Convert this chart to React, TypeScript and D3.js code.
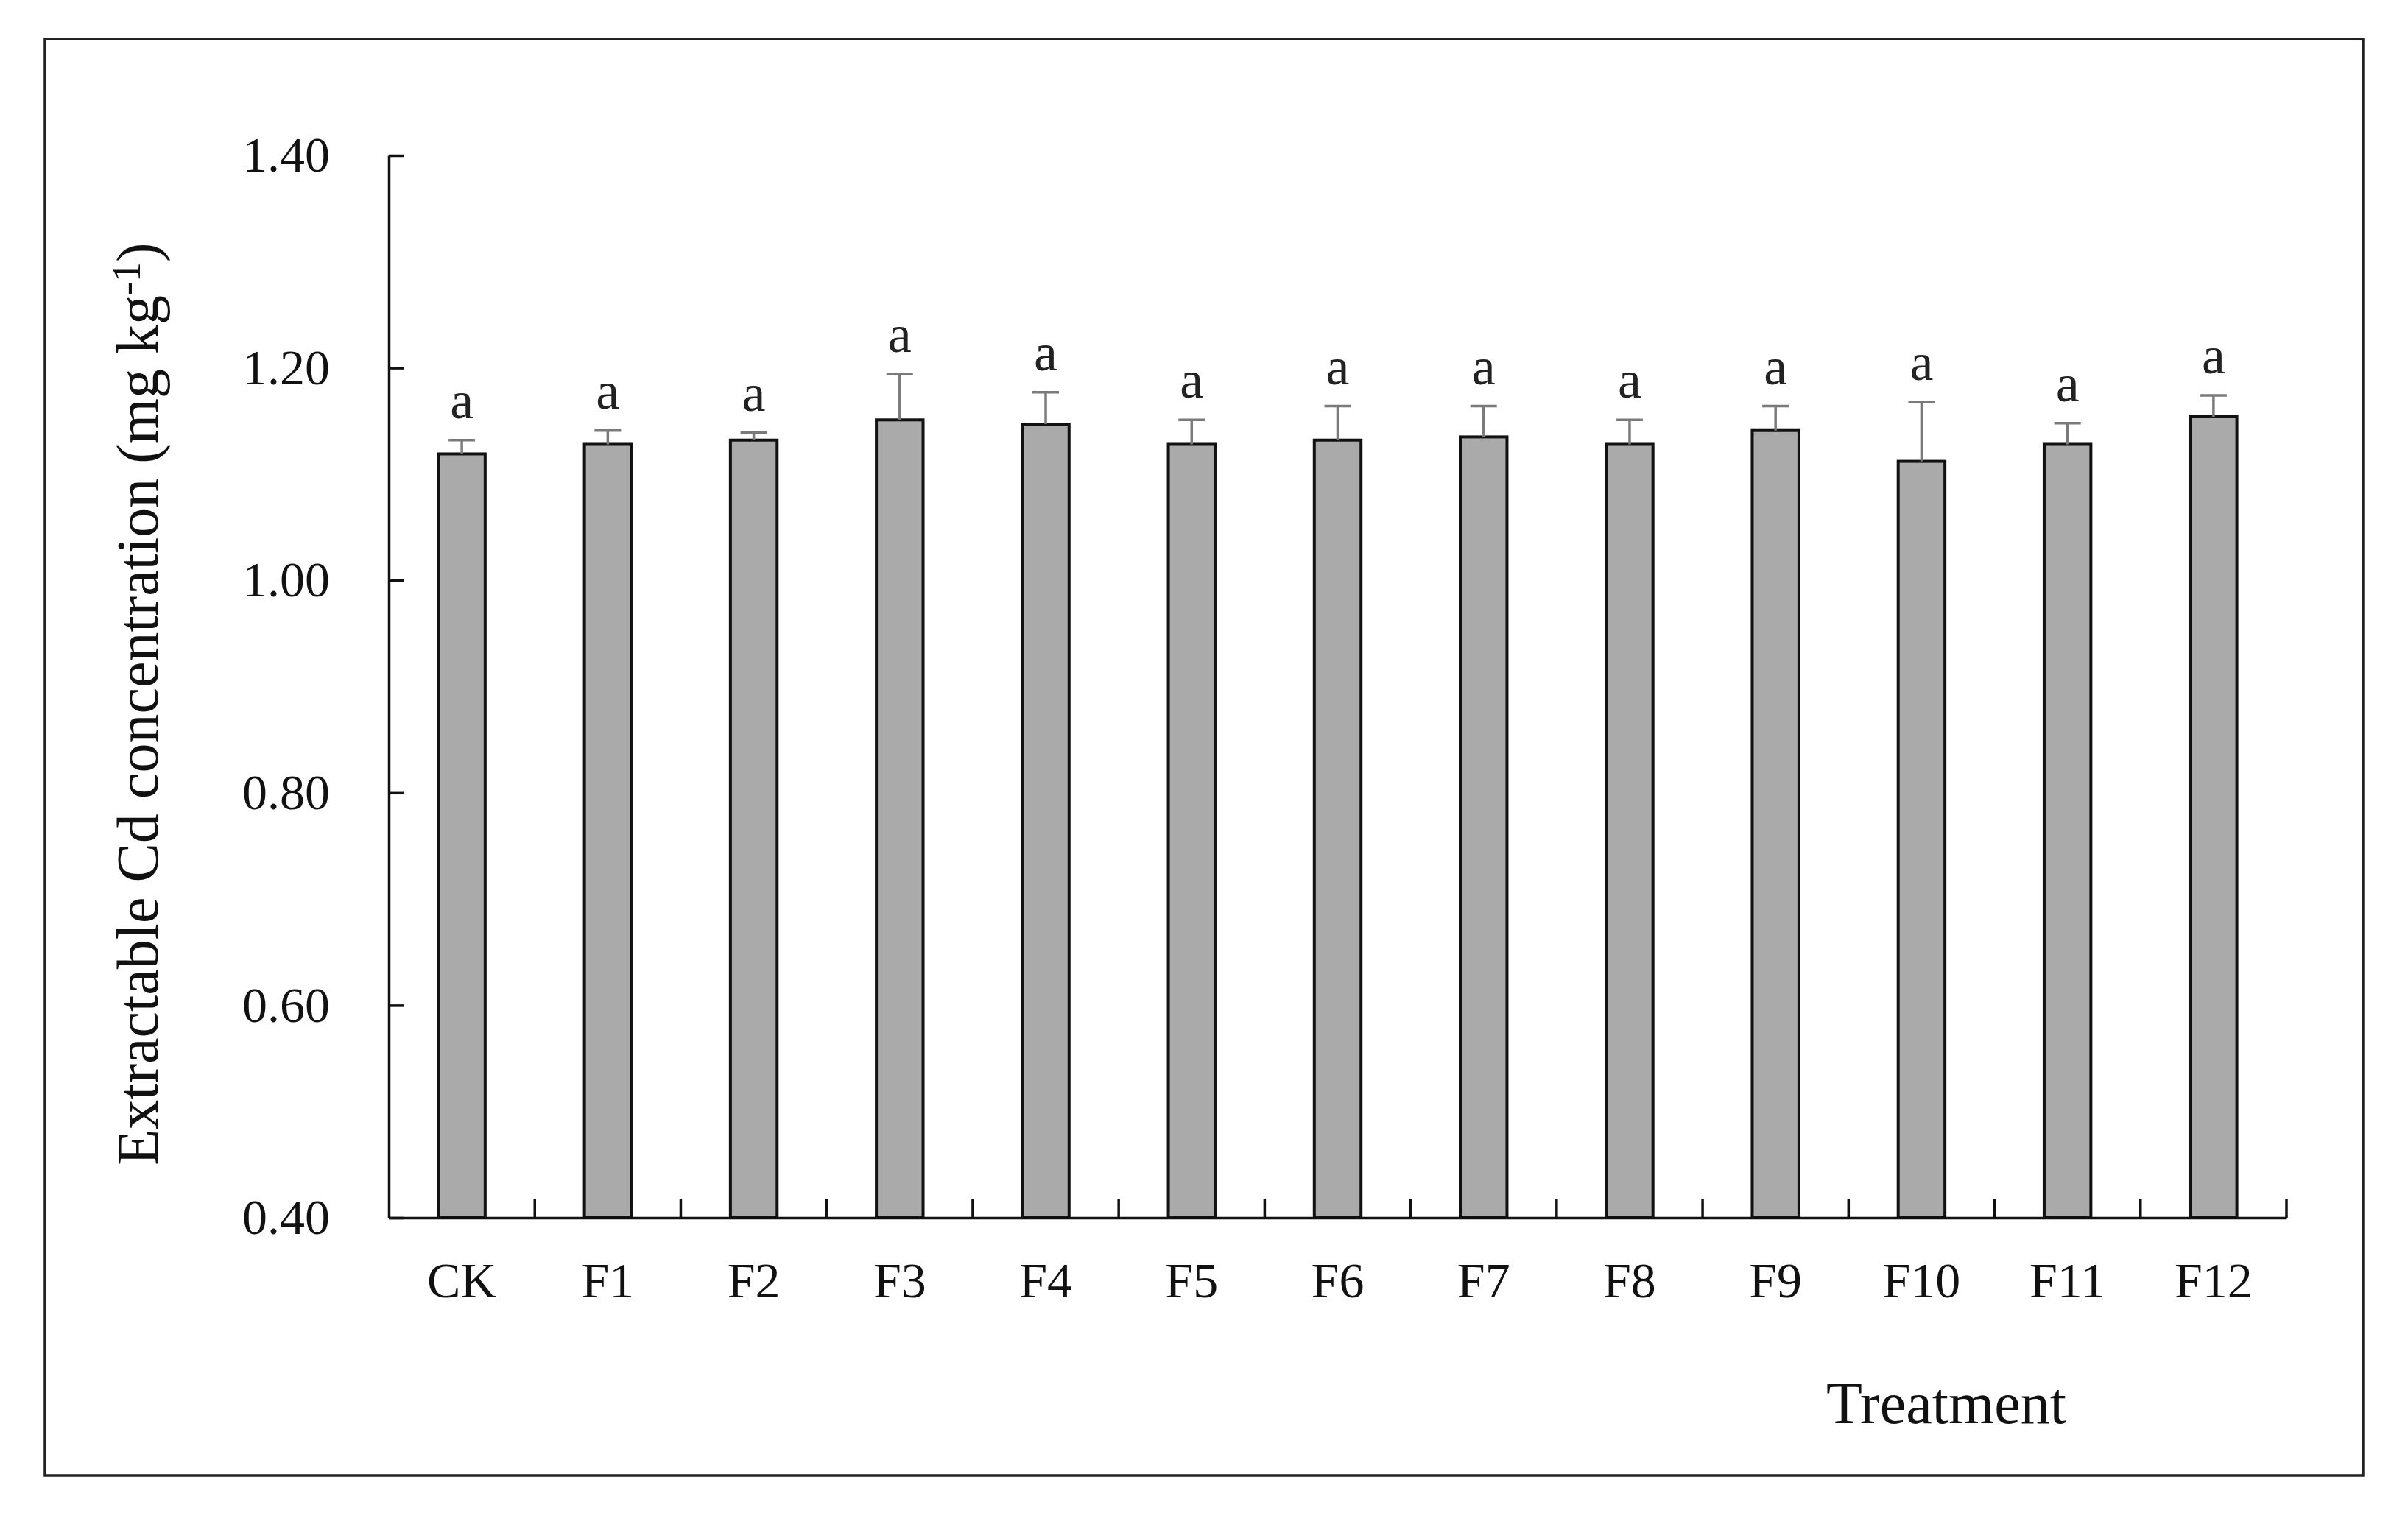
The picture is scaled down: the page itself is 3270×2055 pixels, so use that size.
import React, { useRef, useEffect } from "react";
import * as d3 from "d3";

const categories = ["CK", "F1", "F2", "F3", "F4", "F5", "F6", "F7", "F8", "F9", "F10", "F11", "F12"];
const means = [1.119, 1.128, 1.132, 1.151, 1.147, 1.128, 1.132, 1.135, 1.128, 1.141, 1.112, 1.128, 1.154];
const errors = [0.013, 0.013, 0.007, 0.043, 0.03, 0.023, 0.032, 0.029, 0.023, 0.023, 0.056, 0.02, 0.02];
const letters = ["a", "a", "a", "a", "a", "a", "a", "a", "a", "a", "a", "a", "a"];
const yTicks = [0.4, 0.6, 0.8, 1.0, 1.2, 1.4];

const FONT = '"Liberation Serif", "Times New Roman", serif';

const App = () => {
  const chartRef = useRef<SVGSVGElement>(null);

  useEffect(() => {
    const width = 3270;
    const height = 2055;
    const plot = { left: 528, right: 3105, top: 211, bottom: 1654 };

    const svg = d3.select(chartRef.current);
    svg.selectAll("*").remove();

    svg.append("rect").attr("width", width).attr("height", height).attr("fill", "#fff");

    // outer frame
    svg
      .append("rect")
      .attr("x", 61)
      .attr("y", 53)
      .attr("width", 3209 - 61)
      .attr("height", 2004 - 53)
      .attr("fill", "none")
      .attr("stroke", "#222")
      .attr("stroke-width", 3.5);

    const data = categories.map((c, i) => ({ key: c, mean: means[i], err: errors[i], letter: letters[i] }));

    const x = d3.scaleBand().domain(categories).range([plot.left, plot.right]).padding(0);
    const y = d3.scaleLinear().domain([0.4, 1.4]).range([plot.bottom, plot.top]);
    const step = x.step();
    const barW = step * 0.32;

    // bars
    svg
      .selectAll(".bar")
      .data(data)
      .enter()
      .append("rect")
      .attr("class", "bar")
      .attr("x", (d) => x(d.key)! + step / 2 - barW / 2)
      .attr("y", (d) => y(d.mean))
      .attr("width", barW)
      .attr("height", (d) => y(0.4) - y(d.mean))
      .attr("fill", "#aaaaaa")
      .attr("stroke", "#111")
      .attr("stroke-width", 4);

    // error bars (upper only)
    const eb = svg.selectAll(".err").data(data).enter().append("g").attr("class", "err");
    eb.append("line")
      .attr("x1", (d) => x(d.key)! + step / 2)
      .attr("x2", (d) => x(d.key)! + step / 2)
      .attr("y1", (d) => y(d.mean))
      .attr("y2", (d) => y(d.mean + d.err))
      .attr("stroke", "#7a7a7a")
      .attr("stroke-width", 3.5);
    eb.append("line")
      .attr("x1", (d) => x(d.key)! + step / 2 - 18)
      .attr("x2", (d) => x(d.key)! + step / 2 + 18)
      .attr("y1", (d) => y(d.mean + d.err))
      .attr("y2", (d) => y(d.mean + d.err))
      .attr("stroke", "#7a7a7a")
      .attr("stroke-width", 3.5);

    // significance letters
    svg
      .selectAll(".letter")
      .data(data)
      .enter()
      .append("text")
      .attr("class", "letter")
      .attr("x", (d) => x(d.key)! + step / 2)
      .attr("y", (d) => y(d.mean + d.err) - 30)
      .attr("text-anchor", "middle")
      .style("font-family", FONT)
      .style("font-size", "72px")
      .attr("fill", "#222")
      .text((d) => d.letter);

    // y axis, ticks pointing inward
    const yAxis = svg
      .append("g")
      .attr("transform", `translate(${plot.left},0)`)
      .call(
        d3
          .axisLeft(y)
          .tickValues(yTicks)
          .tickFormat(d3.format(".2f"))
          .tickSizeInner(-20)
          .tickSizeOuter(0)
          .tickPadding(80)
      );
    yAxis.select(".domain").attr("stroke", "#111").attr("stroke-width", 3.5);
    yAxis.selectAll(".tick line").attr("stroke", "#111").attr("stroke-width", 3.5);
    yAxis
      .selectAll(".tick text")
      .style("font-family", FONT)
      .style("font-size", "68px")
      .attr("fill", "#111");

    // x axis: line, boundary ticks, category labels
    const xAxis = svg
      .append("g")
      .attr("transform", `translate(0,${plot.bottom})`)
      .call(d3.axisBottom(x).tickSize(0).tickPadding(60));
    xAxis.select(".domain").attr("stroke", "#111").attr("stroke-width", 3.5);
    xAxis
      .selectAll(".tick text")
      .style("font-family", FONT)
      .style("font-size", "68px")
      .attr("fill", "#111")
      .attr("dy", "0.71em");
    svg
      .selectAll(".xtick")
      .data(categories)
      .enter()
      .append("line")
      .attr("class", "xtick")
      .attr("x1", (c) => x(c)! + step)
      .attr("x2", (c) => x(c)! + step)
      .attr("y1", plot.bottom)
      .attr("y2", plot.bottom - 26)
      .attr("stroke", "#111")
      .attr("stroke-width", 3.5);

    // axis titles
    svg
      .append("text")
      .attr("x", 2643)
      .attr("y", 1933)
      .attr("text-anchor", "middle")
      .style("font-family", FONT)
      .style("font-size", "80px")
      .attr("fill", "#111")
      .text("Treatment");

    const yTitle = svg
      .append("text")
      .attr("transform", `translate(214,956) rotate(-90)`)
      .attr("text-anchor", "middle")
      .style("font-family", FONT)
      .style("font-size", "80px")
      .attr("fill", "#111");
    yTitle.append("tspan").text("Extractable Cd concentration (mg kg");
    yTitle.append("tspan").attr("dy", -24).style("font-size", "54px").text("-1");
    yTitle.append("tspan").attr("dy", 24).text(")");
  }, []);

  return (
    <svg
      ref={chartRef}
      width={3270}
      height={2055}
      style={{ position: "absolute", left: 0, top: 0, display: "block" }}
    />
  );
};

export default App;
